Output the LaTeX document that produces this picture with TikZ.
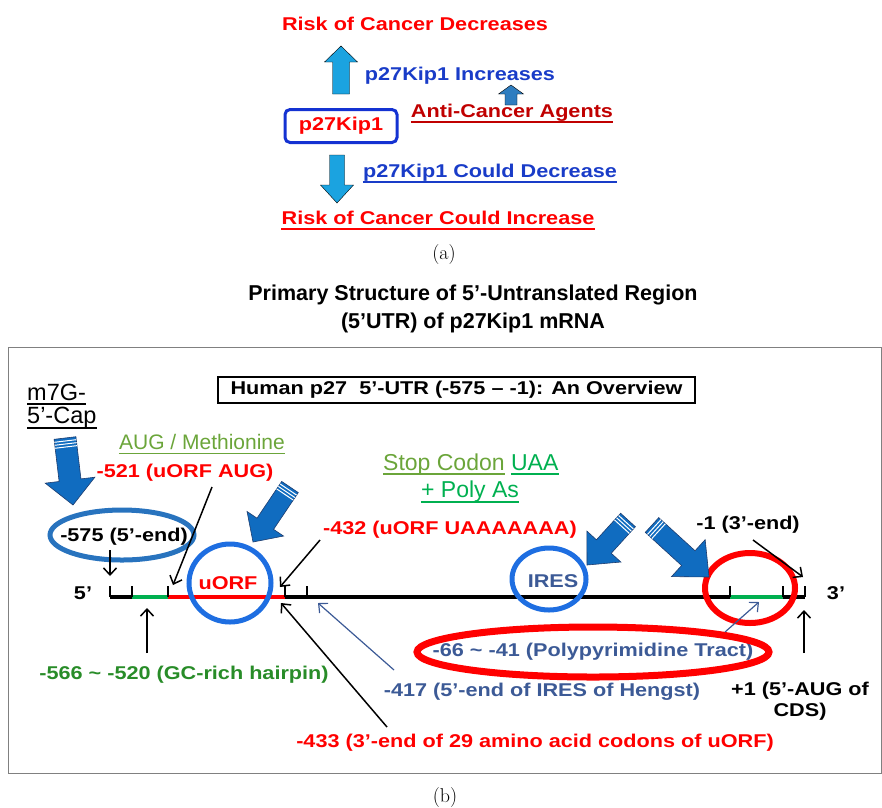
\documentclass[tikz,border=0pt]{standalone}
\usepackage{fontspec}
\usetikzlibrary{calc,positioning,arrows.meta}
\newfontfamily\arialfont{Liberation Sans}
\newfontfamily\widefont[FakeStretch=1.17]{Liberation Sans}
\definecolor{riskred}{RGB}{255,0,0}
\definecolor{darkred}{RGB}{192,0,0}
\definecolor{textblue}{RGB}{25,60,200}
\definecolor{boxblue}{RGB}{20,50,210}
\definecolor{skyarrow}{RGB}{27,163,224}
\definecolor{midarrow}{RGB}{46,125,192}
\definecolor{capblue}{RGB}{16,108,192}
\definecolor{capedge}{RGB}{30,60,110}
\definecolor{ringblue}{RGB}{30,110,225}
\definecolor{ovalblue}{RGB}{40,115,190}
\definecolor{steelblue}{RGB}{60,90,150}
\definecolor{hairgreen}{RGB}{40,140,40}
\definecolor{olive}{RGB}{107,165,58}
\definecolor{brightgreen}{RGB}{0,176,80}
\definecolor{framegray}{RGB}{128,128,128}
\tikzset{
  lbl/.style={font=\widefont\bfseries\fontsize{18.5}{21}\selectfont, inner sep=0pt},
  thin lbl/.style={font=\arialfont\fontsize{#1}{#1}\selectfont, inner sep=0pt},
  capfont/.style={font=\rmfamily\fontsize{20}{22}\selectfont},
  ptr/.style={-{Straight Barb[length=7pt,width=13pt]}, line width=1.5pt},
  oval/.style={line width=5pt},
  tickmark/.style={line width=1.5pt},
  bigarrow/.style={fill=capblue, draw=capedge, line width=0.6pt},
}
% style, tail, tip, half shaft, half head, head length
\newcommand\blockarrow[6]{
  \coordinate (hb) at ($(#3)!#6!(#2)$);
  \draw[#1] ($(#2)!#4!90:(#3)$) -- ($(hb)!#4!-90:(#2)$) -- ($(hb)!#5!-90:(#2)$)
    -- (#3) -- ($(hb)!#5!90:(#2)$) -- ($(hb)!#4!90:(#2)$) -- ($(#2)!#4!-90:(#3)$) -- cycle;
}
\newcommand\stripes[3]{
  \foreach \s in {3pt,6pt,9pt}{
    \coordinate (sc) at ($(#1)!\s!(#2)$);
    \draw[white, line width=1pt] ($(sc)!#3!90:(#2)$) -- ($(sc)!#3!-90:(#2)$);
  }
}
\newcommand\ulnode[3][1.5pt]{\draw[#2, line width=#1] ([yshift=-4pt]#3.base west) -- ([yshift=-4pt]#3.base east);}
\begin{document}
\begin{tikzpicture}[x=1pt,y=-1pt]
\useasboundingbox (0,0) rectangle (882,807);
% (a)
\node[lbl, riskred] (riskdown) at (415,24) {Risk of Cancer Decreases};
\node[lbl, textblue] (incr) at (460,76) {p27Kip1 Increases};
\node[lbl, darkred] (agents) at (512,113) {Anti-Cancer Agents};
\node[lbl, text=riskred, draw=boxblue, line width=3pt, rounded corners=5pt, minimum width=112pt, minimum height=33pt] (p27) at (341,126) {p27Kip1};
\node[lbl, textblue] (decr) at (490,173) {p27Kip1 Could Decrease};
\node[lbl, riskred] (riskup) at (438,218) {Risk of Cancer Could Increase};
\ulnode[2pt]{darkred}{agents}
\ulnode[2pt]{textblue}{decr}
\ulnode[2pt]{riskred}{riskup}
\coordinate (upT) at (341,94);
\coordinate (upH) at (341,46);
\coordinate (downT) at (337,155);
\coordinate (downH) at (337,203);
\coordinate (agT) at (511,105);
\coordinate (agH) at (511,85);
\blockarrow{fill=skyarrow}{upT}{upH}{8.5pt}{16.5pt}{16pt}
\blockarrow{fill=skyarrow}{downT}{downH}{7.5pt}{16.5pt}{18pt}
\blockarrow{fill=midarrow}{agT}{agH}{6pt}{12.5pt}{9pt}
\node[capfont] (capa) at (444,255) {(a)};
% (b)
\node[font=\arialfont\bfseries\fontsize{21.5}{28}\selectfont, align=center] (title) at (473,309) {Primary Structure of 5’-Untranslated Region\\(5’UTR) of p27Kip1 mRNA};
\draw[framegray, line width=1pt] (8,347) rectangle (881,773);
\node[lbl, draw, line width=2pt, minimum width=477pt, minimum height=26pt] (overview) at (456.5,389.5) {Human p27\ \ 5’-UTR (-575 – -1): An Overview};
\node[thin lbl=23.5, anchor=west] (m7g) at (27,392) {m7G-};
\node[thin lbl=23.5, anchor=west] (cap) at (27,418) {5’-Cap};
\ulnode{black}{m7g}
\ulnode{black}{cap}
\node[thin lbl=21, olive] (aug) at (202,442) {AUG / Methionine};
\ulnode{olive}{aug}
\node[thin lbl=23, olive, anchor=base west] (stop) at (383,470) {Stop Codon};
\node[thin lbl=23, brightgreen, base right=6pt of stop] (uaa) {UAA};
\node[thin lbl=23, brightgreen] (poly) at (470,492) {+ Poly As};
\ulnode{olive}{stop}
\ulnode{brightgreen}{uaa}
\ulnode{brightgreen}{poly}
\node[lbl, riskred] (l521) at (185,473) {-521 (uORF AUG)};
\node[lbl, riskred] (l432) at (450,530) {-432 (uORF UAAAAAAA)};
\node[lbl] (l575) at (124,537) {-575 (5’-end)};
\node[lbl] (l1) at (748,525) {-1 (3’-end)};
\node[lbl] (five) at (83,593) {5’};
\node[lbl] (three) at (836,593) {3’};
\node[lbl, riskred] (uorf) at (228,583) {uORF};
\node[lbl, steelblue] (ires) at (553,581) {IRES};
\node[lbl, hairgreen] (l566) at (184,675) {-566 \textasciitilde\ -520 (GC-rich hairpin)};
\node[lbl, steelblue] (l417) at (542,692) {-417 (5’-end of IRES of Hengst)};
\node[lbl, steelblue] (l66) at (593,652) {-66 \textasciitilde\ -41 (Polypyrimidine Tract)};
\node[lbl, align=center] (plus1) at (800,701) {+1 (5’-AUG of\\CDS)};
\node[lbl, riskred] (l433) at (535,743) {-433 (3’-end of 29 amino acid codons of uORF)};
% mRNA
\coordinate (t1) at (110,597);
\coordinate (t2) at (132,597);
\coordinate (t3) at (168,597);
\coordinate (t4) at (285,597);
\coordinate (t5) at (307,597);
\coordinate (t6) at (730,597);
\coordinate (t7) at (783,597);
\coordinate (t8) at (805,597);
\draw[line width=4pt] (t1) -- (t8);
\draw[brightgreen, line width=4pt] (t2) -- (t3);
\draw[riskred, line width=4pt] (t3) -- (t4);
\draw[brightgreen, line width=4pt] (t6) -- (t7);
\foreach \t in {t1,t2,t3,t4,t5,t6,t7,t8}
  \draw[tickmark] (\t) -- ++(0,-11);
% ovals
\draw[oval, ovalblue] (122,535) ellipse [x radius=72pt, y radius=25pt];
\draw[oval, ringblue] (230,583) ellipse [x radius=41pt, y radius=39pt];
\draw[oval, ringblue] (549,579) ellipse [x radius=37pt, y radius=31pt];
\draw[oval, riskred, line width=6pt] (750,588) ellipse [x radius=45pt, y radius=35pt];
\draw[oval, riskred, line width=7pt] (593,652) ellipse [x radius=176pt, y radius=25pt];
% block arrows
\coordinate (capT) at (65,438);
\coordinate (capH) at (73,505);
\coordinate (augT) at (290,487);
\coordinate (augH) at (253,542);
\coordinate (iresT) at (628,520);
\coordinate (iresH) at (587,565);
\coordinate (tractT) at (652,525);
\coordinate (tractH) at (709,577);
\blockarrow{bigarrow}{capT}{capH}{11pt}{25pt}{25pt}
\stripes{capT}{capH}{11pt}
\blockarrow{bigarrow}{augT}{augH}{10pt}{22pt}{22pt}
\stripes{augT}{augH}{10pt}
\blockarrow{bigarrow}{iresT}{iresH}{10pt}{23pt}{25pt}
\stripes{iresT}{iresH}{10pt}
\blockarrow{bigarrow}{tractT}{tractH}{10pt}{25pt}{28pt}
\stripes{tractT}{tractH}{10pt}
% pointers
\coordinate (p575) at (110,550);
\coordinate (q575) at (110,576);
\coordinate (p521) at (212,487);
\coordinate (q521) at (173,585);
\coordinate (p432) at (320,540);
\coordinate (q432) at (280,587);
\coordinate (p1) at (753,540);
\coordinate (q1) at (803,577);
\coordinate (p566) at (147,653);
\coordinate (q566) at (147,608);
\coordinate (p417) at (394,670);
\coordinate (q417) at (318,603);
\coordinate (p66) at (725,632);
\coordinate (q66) at (759,602);
\coordinate (pplus) at (804,653);
\coordinate (qplus) at (804,610);
\coordinate (p433) at (387,727);
\coordinate (q433) at (281,603);
\draw[ptr] (p575) -- (q575);
\draw[ptr] (p521) -- (q521);
\draw[ptr] (p432) -- (q432);
\draw[ptr] (p1) -- (q1);
\draw[ptr] (p566) -- (q566);
\draw[ptr, steelblue, line width=1.2pt] (p417) -- (q417);
\draw[ptr, steelblue, line width=1.2pt] (p66) -- (q66);
\draw[ptr] (pplus) -- (qplus);
\draw[ptr] (p433) -- (q433);
\node[capfont] (capb) at (445,797) {(b)};
\end{tikzpicture}
\end{document}
